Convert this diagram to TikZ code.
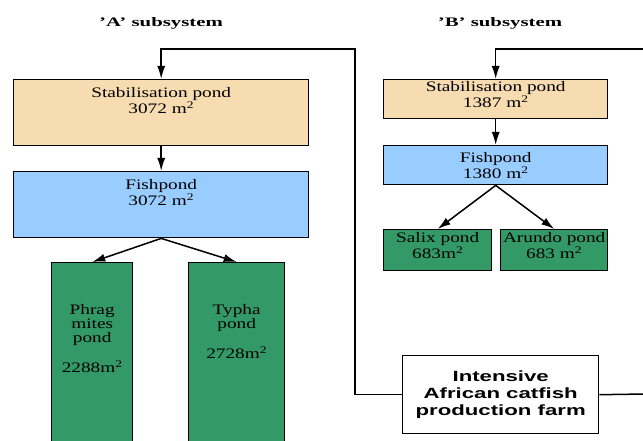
\documentclass[tikz,border=0pt]{standalone}
\usepackage{fontspec}
\setmainfont{Liberation Serif}[FakeStretch=1.33]
\newfontfamily\titlefont{Liberation Serif}[FakeStretch=1.6]
\newfontfamily\farmfont{Liberation Sans}[FakeStretch=1.5]
\usetikzlibrary{arrows.meta}

\definecolor{pondwheat}{HTML}{F6DCB0}
\definecolor{pondblue}{HTML}{99CCFF}
\definecolor{pondgreen}{HTML}{339966}

\tikzset{
  pond/.style={draw, line width=1.4pt, inner sep=0pt, anchor=north west},
  stabpond/.style={pond, fill=pondwheat},
  fishpond/.style={pond, fill=pondblue},
  reedpond/.style={pond, fill=pondgreen},
  lbl/.style={align=center, anchor=north, inner sep=0pt, font=\fontsize{14.5}{14}\selectfont},
  flow/.style={line width=1.5pt, -{Latex[length=13pt,width=8pt]}},
  title/.style={anchor=base, font=\titlefont\bfseries\fontsize{13}{13}\selectfont}
}

\begin{document}
\begin{tikzpicture}[x=1pt, y=-1pt]
    \useasboundingbox (0,0) rectangle (643,441);

    % titles
    \node[title] (titleA) at (161,27) {’A’ subsystem};
    \node[title] (titleB) at (500,27) {’B’ subsystem};

    % 'A' subsystem
    \node[stabpond, minimum width=295pt, minimum height=66pt] (stabA) at (13,79) {};
    \node[lbl] (stabAtext) at ([yshift=-8pt]stabA.north) {Stabilisation pond\\3072 m\textsuperscript{2}};

    \node[fishpond, minimum width=295pt, minimum height=66pt] (fishA) at (13,171) {};
    \node[lbl] (fishAtext) at ([yshift=-8pt]fishA.north) {Fishpond\\3072 m\textsuperscript{2}};

    \node[reedpond, minimum width=81pt, minimum height=190pt] (phrag) at (51,262) {};
    \node[lbl] (phragtext) at ([yshift=-42pt]phrag.north) {Phrag\\mites\\pond\\[14pt]2288m\textsuperscript{2}};

    \node[reedpond, minimum width=96pt, minimum height=190pt] (typha) at (188,262) {};
    \node[lbl] (typhatext) at ([yshift=-42pt]typha.north) {Typha\\pond\\[14pt]2728m\textsuperscript{2}};

    % 'B' subsystem
    \node[stabpond, minimum width=224pt, minimum height=39pt] (stabB) at (383,79) {};
    \node[lbl] (stabBtext) at ([yshift=-2pt]stabB.north) {Stabilisation pond\\1387 m\textsuperscript{2}};

    \node[fishpond, minimum width=224pt, minimum height=39pt] (fishB) at (383,145) {};
    \node[lbl] (fishBtext) at ([yshift=-7pt]fishB.north) {Fishpond\\1380 m\textsuperscript{2}};

    \node[reedpond, minimum width=108pt, minimum height=41pt] (salix) at (383,229) {};
    \node[lbl] (salixtext) at ([yshift=-3pt]salix.north) {Salix pond\\683m\textsuperscript{2}};

    \node[reedpond, minimum width=107pt, minimum height=41pt] (arundo) at (500,229) {};
    \node[lbl] (arundotext) at ([yshift=-3pt]arundo.north) {Arundo pond\\683 m\textsuperscript{2}};

    % farm
    \node[pond, fill=white, minimum width=196pt, minimum height=78pt, align=center,
          font=\farmfont\bfseries\fontsize{14.8}{17}\selectfont] (farm) at (402,355)
          {Intensive\\African catfish\\production farm};

    \coordinate (loopA) at (355,49);
    \coordinate (inB) at (645,49);
    \coordinate (outB) at (645,394);

    % flows
    \draw[flow] (farm.west) -| (loopA) -| (stabA.north);
    \draw[line width=1.5pt] (farm.east) -- (outB);
    \draw[flow] (inB) -| (stabB.north);

    \draw[flow] (stabA.south) -- (fishA.north);
    \draw[flow] (fishA.south) -- (phrag.north);
    \draw[flow] (fishA.south) -- (typha.north);

    \draw[flow] (stabB.south) -- (fishB.north);
    \draw[flow] (fishB.south) -- (salix.north);
    \draw[flow] (fishB.south) -- (arundo.north);

  \end{tikzpicture}
\end{document}
